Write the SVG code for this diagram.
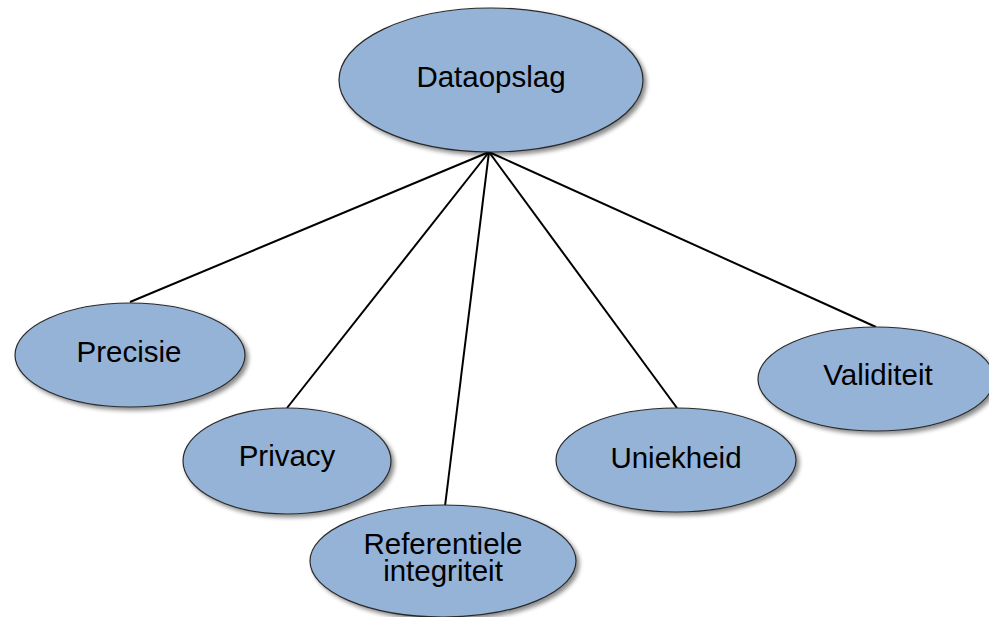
<svg xmlns="http://www.w3.org/2000/svg" width="989" height="617" viewBox="0 0 989 617">
  <defs>
    <filter id="shadow" x="-10%" y="-10%" width="125%" height="130%">
      <feDropShadow dx="3" dy="3" stdDeviation="2" flood-color="#000" flood-opacity="0.45"/>
    </filter>
  </defs>
  <style>
    .node ellipse { fill: #95B3D7; stroke: #2b2b2b; stroke-width: 1.2; filter: url(#shadow); }
    .node text { font-family: "Liberation Sans", Arial, sans-serif; font-size: 29.5px; fill: #000; text-anchor: middle; }
    .links line { stroke: #000; stroke-width: 2; }
  </style>
  <rect width="989" height="617" fill="#fff"/>

  <!-- spokes from the root to each child -->
  <g class="links">
    <line x1="489" y1="152" x2="130" y2="302"/>
    <line x1="489" y1="152" x2="287" y2="408"/>
    <line x1="489" y1="152" x2="445" y2="506"/>
    <line x1="489" y1="152" x2="677" y2="408"/>
    <line x1="489" y1="152" x2="876" y2="327"/>
  </g>

  <g id="dataopslag" class="node">
    <ellipse cx="491" cy="80" rx="152" ry="72"/>
    <text x="491" y="87">Dataopslag</text>
  </g>
  <g id="precisie" class="node">
    <ellipse cx="130" cy="355" rx="115" ry="52"/>
    <text x="129" y="362">Precisie</text>
  </g>
  <g id="privacy" class="node">
    <ellipse cx="287" cy="461" rx="104" ry="53"/>
    <text x="287" y="466">Privacy</text>
  </g>
  <g id="referentiele-integriteit" class="node">
    <ellipse cx="443" cy="561" rx="133" ry="56"/>
    <text x="443" y="554">Referentiele</text>
    <text x="443" y="581">integriteit</text>
  </g>
  <g id="uniekheid" class="node">
    <ellipse cx="676" cy="460" rx="120" ry="52"/>
    <text x="676" y="468">Uniekheid</text>
  </g>
  <g id="validiteit" class="node">
    <ellipse cx="876" cy="379" rx="118" ry="52"/>
    <text x="878" y="385">Validiteit</text>
  </g>
</svg>
